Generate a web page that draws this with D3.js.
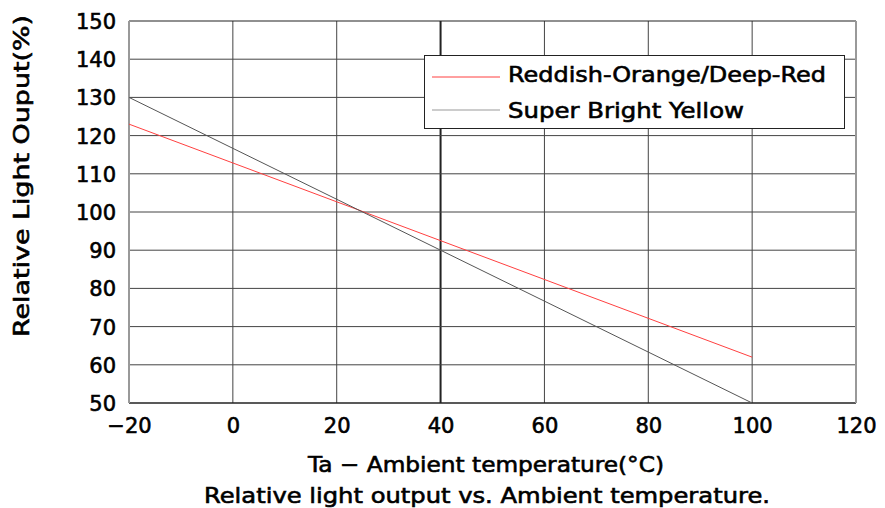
<!DOCTYPE html>
<html><head><meta charset="utf-8">
<script src="https://cdn.jsdelivr.net/npm/d3@7"></script>
<style>body{margin:0;background:#fff}svg{display:block}text{font-family:"DejaVu Sans",sans-serif;fill:#000;stroke:#000;stroke-width:0.6px}</style>
</head><body><svg id="c" width="885" height="508"></svg>
<script>
const temperature = [-20, 100];
const reddishOrange = [123, 62];
const superBrightYellow = [130, 50];
const xTicks = [-20, 0, 20, 40, 60, 80, 100, 120];
const yTicks = [50, 60, 70, 80, 90, 100, 110, 120, 130, 140, 150];
const seriesNames = ["Reddish-Orange/Deep-Red", "Super Bright Yellow"];
const seriesColors = ["#ff4040", "#555555"];

const svg = d3.select("#c");
const m = {l:129, r:856, t:21, b:403};
const x = d3.scaleLinear().domain([-20,120]).range([m.l, m.r]);
const y = d3.scaleLinear().domain([50,150]).range([m.b, m.t]);

// grid
const g = svg.append("g");
g.selectAll(".vx").data(xTicks.filter(d=>d>-20 && d<120)).join("line")
  .attr("x1", d=>x(d)).attr("x2", d=>x(d)).attr("y1", m.t).attr("y2", m.b)
  .attr("stroke", d=>d===40?"#222":"#444").attr("stroke-width", d=>d===40?2:1);
g.selectAll(".hy").data(yTicks.filter(d=>d>50 && d<150)).join("line")
  .attr("y1", d=>y(d)).attr("y2", d=>y(d)).attr("x1", m.l).attr("x2", m.r)
  .attr("stroke", "#444").attr("stroke-width", 1);
// borders
svg.append("line").attr("x1",m.l).attr("x2",m.r).attr("y1",m.t).attr("y2",m.t).attr("stroke","#222").attr("stroke-width",1.2);
svg.append("line").attr("x1",m.l).attr("x2",m.r).attr("y1",m.b).attr("y2",m.b).attr("stroke","#222").attr("stroke-width",1.6);
svg.append("line").attr("x1",m.l).attr("x2",m.l).attr("y1",m.t).attr("y2",m.b).attr("stroke","#999").attr("stroke-width",2);
svg.append("line").attr("x1",m.r).attr("x2",m.r).attr("y1",m.t).attr("y2",m.b).attr("stroke","#999").attr("stroke-width",2);

// axes labels via d3 axes
const xa = svg.append("g").attr("transform",`translate(0,${m.b})`)
  .call(d3.axisBottom(x).tickValues(xTicks).tickSize(0).tickPadding(15).tickFormat(d=>d<0?"\u2212"+Math.abs(d):d));
const ya = svg.append("g").attr("transform",`translate(${m.l},0)`)
  .call(d3.axisLeft(y).tickValues(yTicks).tickSize(0).tickPadding(13));
[xa, ya].forEach(a=>{a.select(".domain").remove();
  a.selectAll("text").style("font-family","'DejaVu Sans',sans-serif").style("font-size","21px").attr("fill","#000").attr("stroke","#000").attr("stroke-width",0.6);});
xa.selectAll("text").attr("dy","0.71em");
ya.selectAll("text").attr("dy","0.36em");

// lines
const line = d3.line().x(d=>x(d[0])).y(d=>y(d[1]));
const series = [reddishOrange, superBrightYellow];
series.forEach((s,i)=>{
  svg.append("path").datum(temperature.map((t,j)=>[t,s[j]]))
    .attr("d", line).attr("fill","none").attr("stroke", seriesColors[i]).attr("stroke-width",1);
});

// legend
const lg = svg.append("g");
lg.append("rect").attr("x",424.5).attr("y",55.5).attr("width",420).attr("height",73)
  .attr("fill","#fff").attr("stroke","#222").attr("stroke-width",1);
const legendColors = ["#ff4040", "#999"];
const lw = [318, 236];
const lineY = [77, 110], textY = [82, 118];
seriesNames.forEach((n,i)=>{
  lg.append("line").attr("x1",432).attr("x2",500).attr("y1",lineY[i]).attr("y2",lineY[i]).attr("stroke",legendColors[i]).attr("stroke-width",1);
  lg.append("text").attr("x",508).attr("y",textY[i]).style("font-size","21px")
    .attr("textLength",lw[i]).attr("lengthAdjust","spacingAndGlyphs").text(n);
});

// titles
svg.append("text").attr("x",308).attr("y",472).style("font-size","21px")
  .attr("textLength",356).attr("lengthAdjust","spacingAndGlyphs").text("Ta \u2212 Ambient temperature(\u00B0C)");
svg.append("text").attr("x",204).attr("y",503).style("font-size","21px")
  .attr("textLength",566).attr("lengthAdjust","spacingAndGlyphs").text("Relative light output vs. Ambient temperature.");
svg.append("text").attr("transform","translate(29,337) rotate(-90)").style("font-size","21px")
  .attr("textLength",322).attr("lengthAdjust","spacingAndGlyphs").text("Relative Light Ouput(%)");
</script></body></html>
